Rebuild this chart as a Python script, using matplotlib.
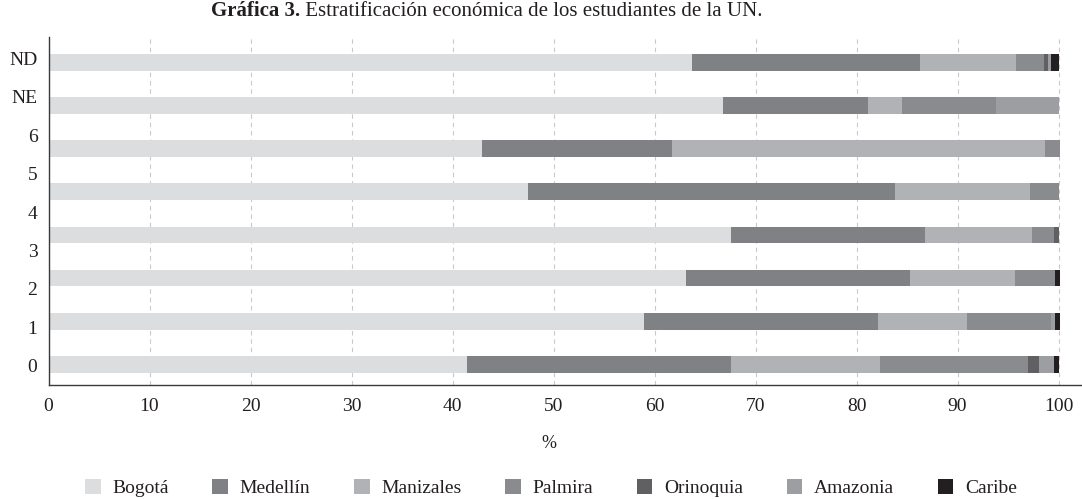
import numpy as np
import matplotlib
matplotlib.use("Agg")
import matplotlib.pyplot as plt
from matplotlib.patches import Patch

# ---- data (bars listed bottom to top) ----
bar_categories = ["0", "1", "2", "3", "5", "6", "NE", "ND"]
tick_labels = ["0", "1", "2", "3", "4", "5", "6", "NE", "ND"]
xticks = [0, 10, 20, 30, 40, 50, 60, 70, 80, 90, 100]

series_names = ["Bogotá", "Medellín", "Manizales", "Palmira", "Orinoquia", "Amazonia", "Caribe"]
bogota    = [41.4, 59.0, 63.1, 67.6, 47.5, 42.9, 66.8, 63.7]
medellin  = [26.2, 23.1, 22.2, 19.2, 36.3, 18.8, 14.3, 22.6]
manizales = [14.7, 8.8, 10.4, 10.6, 13.4, 37.0, 3.4, 9.5]
palmira   = [14.7, 8.4, 4.0, 2.2, 2.8, 1.4, 9.3, 2.8]
orinoquia = [1.1, 0.0, 0.0, 0.4, 0.0, 0.0, 0.0, 0.4]
amazonia  = [1.5, 0.4, 0.0, 0.0, 0.0, 0.0, 6.2, 0.3]
caribe    = [0.4, 0.4, 0.4, 0.0, 0.0, 0.0, 0.0, 0.7]

colors = ["#dcdddf", "#808185", "#b1b2b5", "#8a8b8f", "#606062", "#9d9ea2", "#231f20"]
series = [bogota, medellin, manizales, palmira, orinoquia, amazonia, caribe]

TXT = "#231f20"
FONT = "Liberation Serif"
FS = 14

W, H = 1082, 499
fig = plt.figure(figsize=(W / 100, H / 100), dpi=100)
ax_left, ax_right, ax_bottom, ax_top = 48.5, 1082, 384.5, 37
ax = fig.add_axes([ax_left / W, 1 - ax_bottom / H, (ax_right - ax_left) / W, (ax_bottom - ax_top) / H])

y = np.arange(len(bar_categories))
left = np.zeros(len(bar_categories))
for name, vals, c in zip(series_names, series, colors):
    vals = np.array(vals)
    ax.barh(y, vals, left=left, height=0.387, color=c, edgecolor="none", zorder=2)
    left += vals

ax.set_xlim(0, (ax_right - ax_left) / 10.1)
ax.set_ylim(-0.468, 7.587)

ax.set_xticks(xticks)
ax.set_xticklabels([str(t) for t in xticks], fontsize=FS, family=FONT, color=TXT)
ax.set_yticks(np.linspace(-0.032, 7.093, len(tick_labels)))
ax.set_yticklabels(tick_labels, fontsize=FS, family=FONT, color=TXT)
ax.tick_params(axis="x", length=0, pad=10)
ax.tick_params(axis="y", length=0, pad=8)

ax.xaxis.grid(True, color="#c9c9c9", linestyle=(0, (4, 3.5)), linewidth=0.8, zorder=0)
ax.set_axisbelow(True)
for s in ["top", "right"]:
    ax.spines[s].set_visible(False)
for s in ["left", "bottom"]:
    ax.spines[s].set_color("#3a3a3a")
    ax.spines[s].set_linewidth(1.0)

fig.text(549 / W, 1 - 444 / H, "%", ha="center", va="center", fontsize=FS - 1, family=FONT, color=TXT)

fig.text(300 / W, 1 - 16 / H, "Gráfica 3.", ha="right", va="baseline", fontsize=FS + 1,
         family=FONT, weight="bold", color=TXT)
fig.text(300 / W, 1 - 16 / H, " Estratificación económica de los estudiantes de la UN.", ha="left",
         va="baseline", fontsize=FS + 1, family=FONT, color=TXT)

handles = [Patch(facecolor=c, edgecolor="none", label=n) for n, c in zip(series_names, colors)]
fig.legend(handles=handles, loc="center", bbox_to_anchor=(551 / W, 1 - 488 / H), ncol=7,
           frameon=False, prop={"family": FONT, "size": FS}, handlelength=0.8, handleheight=0.8,
           handletextpad=0.6, columnspacing=2.25, labelcolor=TXT)

fig.savefig("out.png", dpi=100)
